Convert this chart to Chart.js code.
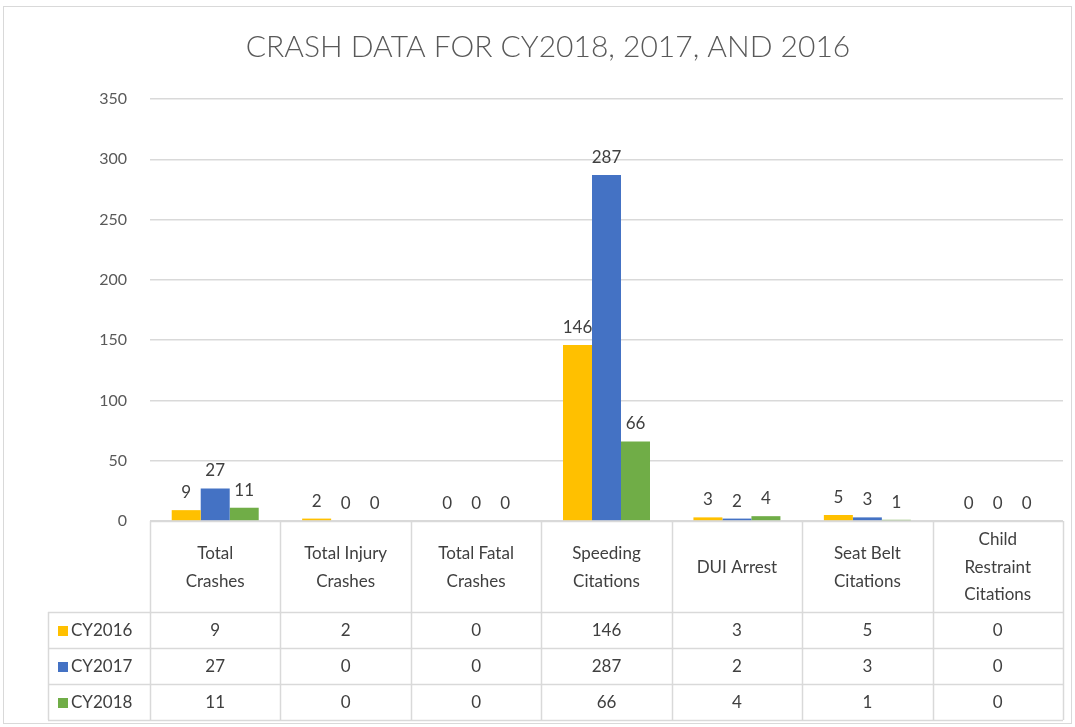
<!DOCTYPE html>
<html>
<head>
<meta charset="utf-8">
<script src="https://cdn.jsdelivr.net/npm/chart.js@4"></script>
<style>
  html, body { margin: 0; padding: 0; background: #fff; }
  #wrap { width: 1075px; height: 727px; }
</style>
</head>
<body>
<div id="wrap"><canvas id="crashChart" width="1075" height="727"></canvas></div>
<script>
// crash data
const categories = [
    ['Total', 'Crashes'],
    ['Total Injury', 'Crashes'],
    ['Total Fatal', 'Crashes'],
    ['Speeding', 'Citations'],
    ['DUI Arrest'],
    ['Seat Belt', 'Citations'],
    ['Child', 'Restraint', 'Citations']
];
const seriesNames = ['CY2016', 'CY2017', 'CY2018'];
const cy2016 = [9, 2, 0, 146, 3, 5, 0];
const cy2017 = [27, 0, 0, 287, 2, 3, 0];
const cy2018 = [11, 0, 0, 66, 4, 1, 0];
const seriesColors = ['#FFC000', '#4472C4', '#70AD47'];
const yMax = 350;
const yStep = 50;

const FONT = 'Lato, "Open Sans", sans-serif';
const TEXT = '#404040';
const LINE = '#d9d9d9';

// title, bar labels, data table and frame are drawn here
const excelExtras = {
    id: 'excelExtras',
    afterDatasetsDraw(chart) {
        const ctx = chart.ctx;
        ctx.save();
        ctx.font = '17px ' + FONT;
        ctx.fillStyle = TEXT;
        ctx.textAlign = 'center';
        ctx.textBaseline = 'bottom';
        chart.data.datasets.forEach((ds, i) => {
            chart.getDatasetMeta(i).data.forEach((bar, j) => {
                ctx.fillText(String(ds.data[j]), bar.x, bar.y - 9);
            });
        });
        ctx.restore();
    },
    afterDraw(chart) {
        const ctx = chart.ctx;
        const area = chart.chartArea;
        const x = chart.scales.x;
        const n = categories.length;
        const step = (area.right - area.left) / n;
        const top = area.bottom;
        const headBottom = top + 91;
        const rowH = 36;
        const tableLeft = 48;
        const bottom = headBottom + rowH * seriesNames.length;

        ctx.save();
        // outer frame
        ctx.strokeStyle = LINE;
        ctx.lineWidth = 1;
        ctx.strokeRect(3.5, 6.5, 1068, 717);

        // title
        ctx.fillStyle = '#595959';
        ctx.font = '300 30px ' + FONT;
        ctx.textAlign = 'center';
        ctx.textBaseline = 'middle';
        ctx.fillText('CRASH DATA FOR CY2018, 2017, AND 2016', 548, 47);

        // table grid
        ctx.strokeStyle = LINE;
        ctx.lineWidth = 1.5;
        ctx.beginPath();
        for (let i = 0; i <= n; i++) {
            const px = Math.round(area.left + step * i) + 0.5;
            ctx.moveTo(px, top);
            ctx.lineTo(px, bottom);
        }
        ctx.moveTo(area.left, top + 0.5);
        ctx.lineTo(area.right, top + 0.5);
        for (let r = 0; r <= seriesNames.length; r++) {
            const py = Math.round(headBottom + rowH * r) + 0.5;
            ctx.moveTo(tableLeft, py);
            ctx.lineTo(area.right, py);
        }
        ctx.moveTo(tableLeft + 0.5, headBottom);
        ctx.lineTo(tableLeft + 0.5, bottom);
        ctx.stroke();

        // header: category names
        ctx.fillStyle = TEXT;
        ctx.font = '17px ' + FONT;
        const lineH = 27.5;
        categories.forEach((lines, i) => {
            const cx = x.getPixelForValue(i);
            const cy = (top + headBottom) / 2 + 1;
            const y0 = cy - (lines.length - 1) * lineH / 2;
            lines.forEach((t, k) => ctx.fillText(t, cx, y0 + k * lineH));
        });

        // rows: legend key + values
        const allSeries = [cy2016, cy2017, cy2018];
        seriesNames.forEach((name, r) => {
            const cy = headBottom + rowH * r + rowH / 2 + 1;
            ctx.fillStyle = seriesColors[r];
            ctx.fillRect(58, cy - 5, 10, 10);
            ctx.fillStyle = TEXT;
            ctx.textAlign = 'left';
            ctx.fillText(name, 71, cy);
            ctx.textAlign = 'center';
            allSeries[r].forEach((v, i) => {
                ctx.fillText(String(v), x.getPixelForValue(i), cy);
            });
        });
        ctx.restore();
    }
};

new Chart(document.getElementById('crashChart'), {
    type: 'bar',
    data: {
        labels: categories,
        datasets: [
            { label: seriesNames[0], data: cy2016, backgroundColor: seriesColors[0] },
            { label: seriesNames[1], data: cy2017, backgroundColor: seriesColors[1] },
            { label: seriesNames[2], data: cy2018, backgroundColor: seriesColors[2] }
        ]
    },
    options: {
        responsive: false,
        animation: false,
        layout: { padding: { left: 0, right: 12, top: 99, bottom: 206 } },
        datasets: { bar: { categoryPercentage: 0.667, barPercentage: 1.0 } },
        plugins: { legend: { display: false }, title: { display: false }, tooltip: { enabled: false } },
        scales: {
            x: {
                display: false
            },
            y: {
                min: 0,
                max: yMax,
                afterFit(scale) { scale.width = 150; },
                border: { display: false },
                grid: { color: LINE, lineWidth: 1.5, drawTicks: false },
                ticks: {
                    stepSize: yStep,
                    padding: 23,
                    color: '#595959',
                    font: { family: FONT, size: 16 }
                }
            }
        }
    },
    plugins: [excelExtras]
});
</script>
</body>
</html>
